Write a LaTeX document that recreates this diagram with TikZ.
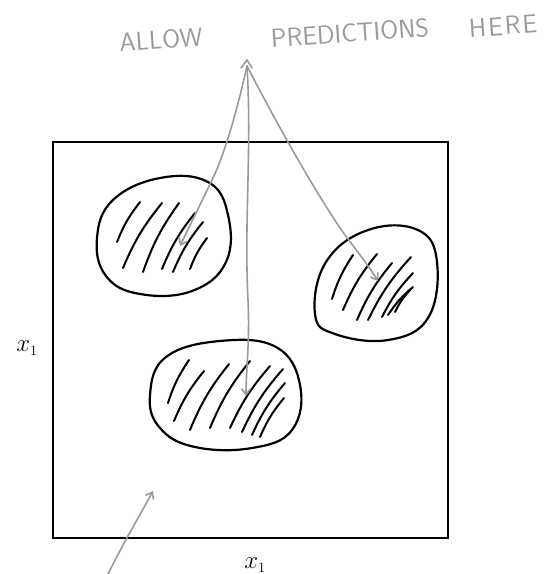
\documentclass[tikz,border=0pt]{standalone}
\usetikzlibrary{arrows.meta,calc}
\definecolor{pen}{HTML}{9A9A9A}
\tikzset{
  blob/.style={draw=black, line width=2.2pt, line join=round},
  hatch/.style={draw=black, line width=2pt, line cap=round},
  gline/.style={draw=pen, line width=1.6pt, line cap=round, -{Straight Barb[length=6pt,width=9pt]}},
  gword/.style={text=pen, font=\sffamily\fontsize{26}{26}\selectfont, rotate=4, inner sep=0pt},
  axlab/.style={font=\fontsize{30}{30}\selectfont, inner sep=0pt}
}
\begin{document}
\begin{tikzpicture}[x=1pt,y=-1pt]
\useasboundingbox (0,0) rectangle (544,574);
% box
\draw[black, line width=2.2pt] (53,142) rectangle (448,538);
% blob 1
\draw[blob] plot[smooth cycle, tension=0.7] coordinates {(97,238) (113,200) (160,178) (208,182) (228,215) (226,262) (192,291) (140,294) (106,276)};
\draw[hatch] (117,242) to[bend left=8] (140,202);
\draw[hatch] (123,268) to[bend left=8] (162,203);
\draw[hatch] (143,272) to[bend left=8] (179,203);
\draw[hatch] (162,269) to[bend left=8] (195,213);
\draw[hatch] (173,272) to[bend left=8] (203,222);
\draw[hatch] (190,269) to[bend left=8] (207,238);
% blob 2
\draw[blob] plot[smooth cycle, tension=0.7] coordinates {(315,314) (326,262) (368,230) (418,230) (437,262) (428,318) (388,340) (335,334)};
\draw[hatch] (332,299) to[bend left=8] (353,255);
\draw[hatch] (343,310) to[bend left=8] (377,254);
\draw[hatch] (357,320) to[bend left=8] (392,263);
\draw[hatch] (368,320) to[bend left=8] (411,257);
\draw[hatch] (382,317) to[bend left=8] (413,273);
\draw[hatch] (388,315) to[bend left=8] (413,287);
\draw[hatch] (395,312) to[bend left=8] (410,290);
% blob 3
\draw[blob] plot[smooth cycle, tension=0.7] coordinates {(150,395) (166,357) (220,341) (276,347) (300,385) (292,430) (252,448) (195,447) (160,428)};
\draw[hatch] (168,403) to[bend left=8] (189,360);
\draw[hatch] (174,421) to[bend left=8] (204,371);
\draw[hatch] (190,430) to[bend left=8] (229,364);
\draw[hatch] (210,428) to[bend left=8] (250,361);
\draw[hatch] (230,428) to[bend left=8] (270,366);
\draw[hatch] (242,432) to[bend left=8] (283,369);
\draw[hatch] (252,435) to[bend left=8] (285,383);
\draw[hatch] (260,437) to[bend left=8] (284,398);
% text
\node[gword] (w1) at (161,40) {ALLOW};
\node[gword] (w2) at (350,33) {PREDICTIONS};
\node[gword] (w3) at (503,26) {H\kern2pt E\kern2pt R\kern2pt E};
% arrows
\coordinate (apex) at (247,66);
\coordinate (top) at (247,60);
\coordinate (t1) at (180,246);
\coordinate (t2) at (246,396);
\coordinate (t3) at (378,281);
\coordinate (low) at (108,574);
\coordinate (t4) at (153,491);
\draw[draw=pen, line width=1.6pt, line cap=round] ($(top)+(-6,8)$) -- (top) -- ($(top)+(5,8)$);
\draw[gline] (apex) .. controls (235,120) and (222,160) .. (212,180) .. controls (200,205) and (190,225) .. (t1);
\draw[gline] (apex) .. controls (252,150) and (244,220) .. (248,300) .. controls (250,340) and (246,370) .. (t2);
\draw[gline] (apex) .. controls (280,130) and (320,200) .. (345,235) .. controls (360,255) and (370,268) .. (t3);
\draw[gline] (low) .. controls (125,540) and (140,515) .. (t4);
% axis labels
\node[axlab] (xl) at (27,348) {$x_{\scriptscriptstyle 1}$};
\node[axlab] (xb) at (255,565) {$x_{\scriptscriptstyle 1}$};
\end{tikzpicture}
\end{document}
